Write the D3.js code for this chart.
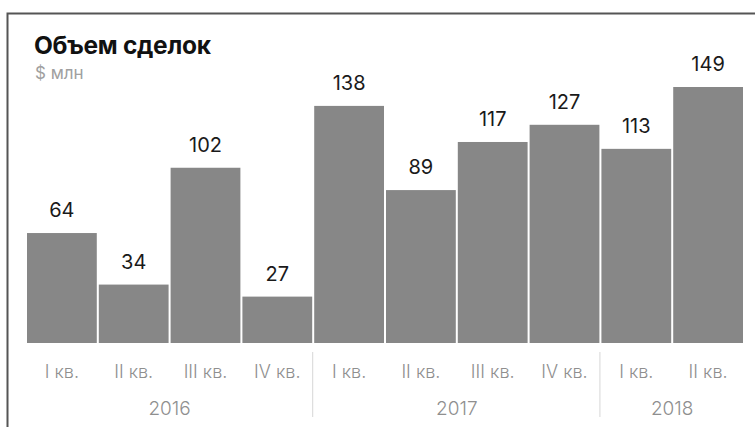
<!DOCTYPE html>
<html lang="ru">
<head>
<meta charset="UTF-8">
<title>Объем сделок</title>
<style>
  body { margin: 0; background: #fff; }
  svg { display: block; font-family: Inter, "Noto Sans", sans-serif; }
</style>
</head>
<body>
<script src="https://cdn.jsdelivr.net/npm/d3@7"></script>
<div id="chart"></div>
<script>
const quarters = ["I кв.", "II кв.", "III кв.", "IV кв.", "I кв.", "II кв.", "III кв.", "IV кв.", "I кв.", "II кв."]
const years = ["2016", "2016", "2016", "2016", "2017", "2017", "2017", "2017", "2018", "2018"]
const values = [64, 34, 102, 27, 138, 89, 117, 127, 113, 149]
const yearNames = ["2016", "2017", "2018"]

const W = 755, H = 427
const BASE = 343

const svg = d3.select("#chart").append("svg")
  .attr("width", W).attr("height", H)

// frame: only left and top lines
svg.append("path")
  .attr("d", `M7.5,${H} V13.5 H${W}`)
  .attr("fill", "none").attr("stroke", "#555").attr("stroke-width", 2)

svg.append("text").attr("x", 34).attr("y", 54)
  .attr("font-size", 24.5).attr("font-weight", 700).attr("fill", "#111")
  .attr("letter-spacing", -0.3)
  .text("Объем сделок")
svg.append("text").attr("x", 35).attr("y", 79)
  .attr("font-size", 17).attr("fill", "#a0a0a0")
  .text("$ млн")

const idx = values.map((d, i) => i)
const x = d3.scaleBand().domain(idx).range([27, 743]).paddingInner(0.028)
const y = d3.scaleLinear().domain([0, 149]).range([BASE, 87])

svg.append("g").selectAll("rect").data(idx).join("rect")
  .attr("x", i => x(i))
  .attr("y", i => y(values[i]))
  .attr("width", x.bandwidth())
  .attr("height", i => BASE - y(values[i]))
  .attr("fill", "#878787")

svg.append("g").selectAll("text").data(idx).join("text")
  .attr("x", i => x(i) + x.bandwidth() / 2)
  .attr("y", i => y(values[i]) - 16)
  .attr("text-anchor", "middle")
  .attr("font-size", 20).attr("fill", "#1a1a1a")
  .text(i => values[i])

// quarter labels
svg.append("g").selectAll("text").data(idx).join("text")
  .attr("x", i => x(i) + x.bandwidth() / 2)
  .attr("y", 378)
  .attr("text-anchor", "middle")
  .attr("font-size", 18).attr("font-weight", 300).attr("fill", "#8f8f8f")
  .text(i => quarters[i])

// year groups
const groups = yearNames.map(yr => {
  const ids = idx.filter(i => years[i] === yr)
  return { yr, x0: x(ids[0]), x1: x(ids[ids.length - 1]) + x.bandwidth() }
})

svg.append("g").selectAll("text").data(groups).join("text")
  .attr("x", g => (g.x0 + g.x1) / 2)
  .attr("y", 415)
  .attr("text-anchor", "middle")
  .attr("font-size", 19).attr("font-weight", 300).attr("fill", "#8f8f8f")
  .text(g => g.yr)

svg.append("g").selectAll("line").data(groups.slice(1)).join("line")
  .attr("x1", g => g.x0 - 1.5).attr("x2", g => g.x0 - 1.5)
  .attr("y1", 352).attr("y2", 417)
  .attr("stroke", "#d6d6d6").attr("stroke-width", 1)
</script>
</body>
</html>
